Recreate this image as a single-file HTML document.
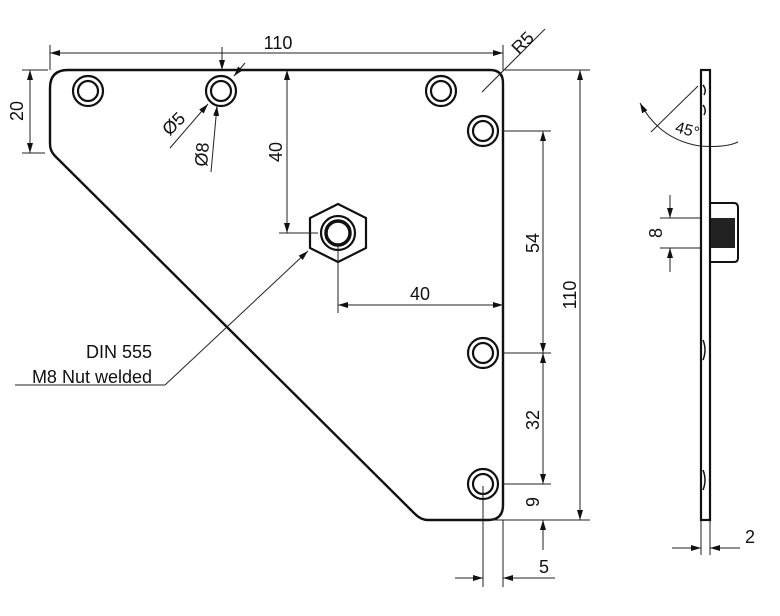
<!DOCTYPE html>
<html><head><meta charset="utf-8"><style>
html,body{margin:0;padding:0;background:#fff}
svg{display:block}
text{font-family:"Liberation Sans",Arial,sans-serif;font-size:18px;fill:#111}
</style></head><body>
<svg width="780" height="616" viewBox="0 0 780 616" xmlns="http://www.w3.org/2000/svg">
<defs>
<marker id="a" viewBox="0 0 10 6" refX="10" refY="3" markerWidth="10" markerHeight="6" orient="auto-start-reverse" markerUnits="userSpaceOnUse"><path d="M0,0 L10,3 L0,6z" fill="#111"/></marker>
</defs>
<path d="M68,70 L490,70 Q503,70 503,83 L503,505 Q503,520 488,520 L428,520 Q421,520 415,514 L55,156 Q50,151 50,144 L50,88 Q50,70 68,70 Z" fill="none" stroke="#111" stroke-width="2.4"/>
<g fill="none" stroke="#111" stroke-width="2.2">
<circle cx="88" cy="91" r="15"/><circle cx="88" cy="91" r="10"/>
<circle cx="221" cy="91" r="15"/><circle cx="221" cy="91" r="10"/>
<circle cx="441" cy="91" r="15"/><circle cx="441" cy="91" r="10"/>
<circle cx="483" cy="131" r="15"/><circle cx="483" cy="131" r="10"/>
<circle cx="483" cy="353" r="15"/><circle cx="483" cy="353" r="10"/>
<circle cx="483" cy="484" r="15"/><circle cx="483" cy="484" r="10"/>
<polygon points="338,204 366,218 366,248 338,262 310,248 310,218"/>
<circle cx="338" cy="233" r="17"/>
<circle cx="338" cy="233" r="12" stroke-width="3.5"/>
</g>
<g fill="none" stroke="#222" stroke-width="1">
<line x1="50" y1="45" x2="50" y2="70"/>
<line x1="503" y1="45" x2="503" y2="70"/>
<line x1="50" y1="53" x2="503" y2="53" marker-start="url(#a)" marker-end="url(#a)"/>
<line x1="22" y1="70" x2="48" y2="70"/>
<line x1="22" y1="153" x2="45" y2="153"/>
<line x1="30" y1="70" x2="30" y2="153" marker-start="url(#a)" marker-end="url(#a)"/>
<line x1="287" y1="70" x2="287" y2="233" marker-start="url(#a)" marker-end="url(#a)"/>
<line x1="279" y1="233" x2="318" y2="233"/>
<line x1="338" y1="245" x2="338" y2="313"/>
<line x1="338" y1="305" x2="503" y2="305" marker-start="url(#a)" marker-end="url(#a)"/>
<line x1="505" y1="70" x2="590" y2="70"/>
<line x1="490" y1="520" x2="590" y2="520"/>
<line x1="580" y1="70" x2="580" y2="520" marker-start="url(#a)" marker-end="url(#a)"/>
<line x1="503" y1="131" x2="551" y2="131"/>
<line x1="503" y1="353" x2="551" y2="353"/>
<line x1="503" y1="484" x2="551" y2="484"/>
<line x1="543" y1="131" x2="543" y2="353" marker-start="url(#a)" marker-end="url(#a)"/>
<line x1="543" y1="353" x2="543" y2="484" marker-start="url(#a)" marker-end="url(#a)"/>
<line x1="543" y1="550" x2="543" y2="520" marker-end="url(#a)"/>
<line x1="483" y1="486" x2="483" y2="587"/>
<line x1="503" y1="520" x2="503" y2="587"/>
<line x1="455" y1="578" x2="483" y2="578" marker-end="url(#a)"/>
<line x1="555" y1="578" x2="503" y2="578" marker-end="url(#a)"/>
<line x1="482" y1="92" x2="545" y2="29"/>
<line x1="222" y1="47" x2="222" y2="70" marker-end="url(#a)"/>
<line x1="170" y1="148" x2="208" y2="104" marker-end="url(#a)"/>
<line x1="245" y1="63" x2="234" y2="76" marker-end="url(#a)"/>
<line x1="211" y1="172" x2="217" y2="106" marker-end="url(#a)"/>
<line x1="15" y1="385" x2="165" y2="385"/>
<line x1="165" y1="385" x2="308" y2="251" marker-end="url(#a)"/>
<line x1="660" y1="218" x2="700" y2="218"/>
<line x1="660" y1="248" x2="700" y2="248"/>
<line x1="670" y1="195" x2="670" y2="218" marker-end="url(#a)"/>
<line x1="670" y1="272" x2="670" y2="248" marker-end="url(#a)"/>
<line x1="701" y1="520" x2="701" y2="555"/>
<line x1="710" y1="520" x2="710" y2="555"/>
<line x1="672" y1="548" x2="701" y2="548" marker-end="url(#a)"/>
<line x1="740" y1="548" x2="710" y2="548" marker-end="url(#a)"/>
<line x1="651" y1="132" x2="698" y2="86"/>
<path d="M640,103 Q660,140 700,146 Q725,148 738,142" marker-start="url(#a)"/>
</g>
<rect x="701" y="70" width="9" height="450" fill="none" stroke="#111" stroke-width="2.2"/>
<path d="M710,203 L734,203 Q738,203 738,208 L738,258 Q738,262 734,262 L710,262" fill="none" stroke="#111" stroke-width="2"/>
<rect x="711" y="218" width="24" height="30" fill="#222"/>
<g fill="none" stroke="#111" stroke-width="1.5">
<path d="M703,85 Q707,90 704,95 M703,105 Q707,110 704,115"/>
<path d="M703,340 Q707,350 703,360 M703,470 Q707,480 703,490"/>
</g>
<text x="278" y="49" text-anchor="middle">110</text>
<text transform="translate(23,111) rotate(-90)" text-anchor="middle">20</text>
<text transform="translate(282,152) rotate(-90)" text-anchor="middle">40</text>
<text x="420" y="300" text-anchor="middle">40</text>
<text transform="translate(539,243) rotate(-90)" text-anchor="middle">54</text>
<text transform="translate(576,295) rotate(-90)" text-anchor="middle">110</text>
<text transform="translate(539,420) rotate(-90)" text-anchor="middle">32</text>
<text transform="translate(539,502) rotate(-90)" text-anchor="middle">9</text>
<text x="544" y="573" text-anchor="middle">5</text>
<text transform="translate(527,47) rotate(-45)" text-anchor="middle">R5</text>
<text transform="translate(178,128) rotate(-45)" text-anchor="middle">Ø5</text>
<text transform="translate(208,155) rotate(-85)" text-anchor="middle">Ø8</text>
<text x="152" y="358" text-anchor="end">DIN 555</text>
<text x="152" y="383" text-anchor="end">M8 Nut welded</text>
<text transform="translate(662,233) rotate(-90)" text-anchor="middle">8</text>
<text x="750" y="543" text-anchor="middle">2</text>
<text transform="translate(686,135) rotate(15)" text-anchor="middle" style="font-size:16px">45°</text>
</svg>
</body></html>
